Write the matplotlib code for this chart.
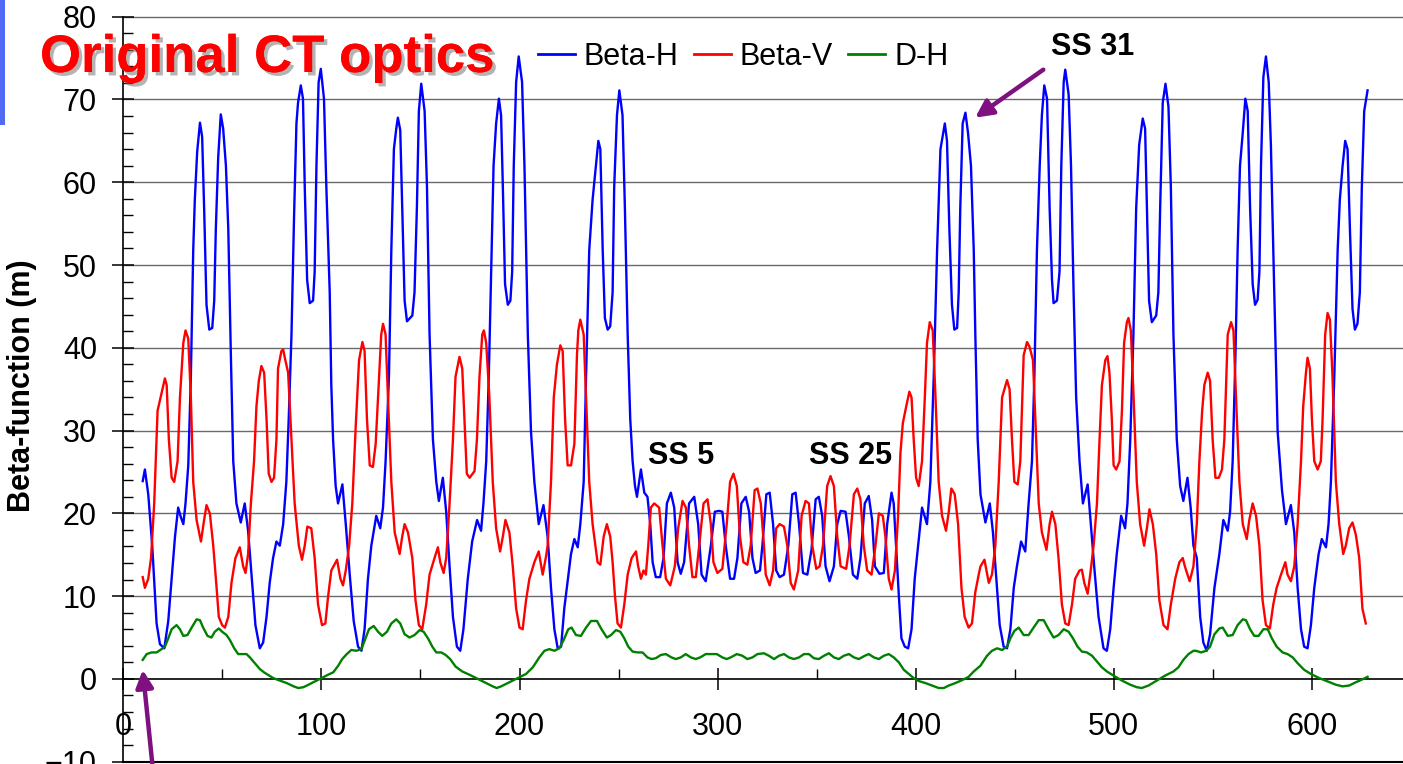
import matplotlib
matplotlib.use("Agg")
import matplotlib.pyplot as plt
import matplotlib.patheffects as pe
from matplotlib.ticker import MultipleLocator
from matplotlib.patches import Rectangle
from matplotlib.lines import Line2D

plt.rcParams['font.family'] = ['Liberation Sans', 'DejaVu Sans']

# ---------------- data ----------------
bh_s = [9.8, 10.9, 12.6, 14.6, 16.8, 18.5, 20.7, 22.7, 24.4, 26.1, 27.7, 29.1, 30.3, 31.4, 32.8, 34.1, 35.3, 36.1, 37.3, 38.7,
        39.8, 40.8, 42.0, 43.4, 44.9, 45.9, 46.7, 47.9, 49.2, 50.4, 51.8, 53.0, 54.3, 55.5, 57.1, 59.3, 61.3, 63.0, 64.7, 66.7,
        68.9, 70.6, 72.3, 73.9, 75.6, 77.3, 79.0, 80.7, 82.3, 83.5, 84.9, 86.2, 87.4, 88.2, 89.6, 90.7, 91.6, 92.8, 94.1, 95.8,
        96.6, 97.5, 98.6, 99.7, 101.3, 102.5, 104.2, 105.0, 105.9, 107.2, 108.4, 110.6, 112.3, 114.3, 116.3, 118.5, 120.2, 121.8, 123.5, 125.2,
        127.7, 129.7, 131.1, 132.4, 134.1, 135.3, 136.6, 137.8, 138.6, 139.8, 140.8, 142.0, 143.2, 145.9, 147.0, 148.2, 149.2, 150.4, 152.1, 153.3,
        154.6, 156.3, 158.0, 159.3, 161.3, 163.0, 164.7, 166.4, 168.4, 170.1, 171.7, 173.9, 176.1, 178.6, 180.6, 181.8, 183.2, 184.5, 185.7, 186.9,
        188.2, 189.6, 190.7, 191.6, 192.7, 194.1, 195.4, 196.3, 197.1, 198.3, 199.6, 201.3, 202.5, 204.2, 205.8, 207.5, 209.7, 212.1, 214.2, 215.9,
        217.6, 219.3, 221.0, 222.6, 224.7, 226.0, 227.7, 229.4, 230.7, 232.4, 233.6, 235.2, 236.9, 238.6, 239.8, 240.8, 242.0, 243.1, 244.5, 245.8,
        247.0, 247.8, 249.2, 250.4, 252.0, 253.2, 254.6, 255.9, 257.1, 258.3, 259.3, 261.3, 263.0, 264.6, 266.0, 267.2, 268.8, 271.0, 272.7, 274.4,
        276.4, 278.1, 279.8, 281.4, 283.1, 285.6, 288.2, 290.2, 291.9, 294.0, 296.6, 298.6, 300.8, 302.4, 304.1, 306.3, 308.3, 310.0, 312.0, 314.2,
        315.9, 317.6, 319.2, 321.4, 322.6, 324.6, 326.3, 328.0, 329.6, 331.3, 333.5, 335.7, 337.7, 339.4, 341.1, 343.1, 345.3, 347.4, 349.5, 351.1,
        352.8, 354.5, 356.5, 358.7, 360.4, 362.1, 364.6, 366.3, 368.3, 370.5, 372.1, 374.3, 376.3, 378.0, 379.4, 381.7, 383.9, 385.6, 387.8, 388.9,
        390.1, 391.5, 392.8, 394.5, 396.2, 397.9, 399.5, 401.2, 403.2, 405.7, 407.4, 409.1, 410.8, 412.5, 414.7, 415.8, 417.0, 418.3, 419.5, 420.9,
        421.7, 422.5, 423.7, 425.1, 426.4, 427.9, 429.3, 430.1, 431.3, 432.7, 435.2, 437.4, 439.0, 440.7, 442.4, 444.4, 446.1, 447.8, 449.5, 451.1,
        453.2, 455.3, 457.0, 458.7, 459.9, 461.2, 462.6, 463.7, 464.9, 466.3, 467.6, 468.8, 469.6, 471.3, 472.6, 473.5, 474.7, 475.5, 477.2, 478.4,
        479.7, 481.0, 482.7, 484.4, 486.8, 488.4, 490.1, 492.3, 494.8, 496.5, 498.2, 499.9, 501.5, 503.7, 505.7, 506.9, 508.3, 509.9, 511.3, 512.8,
        514.6, 515.8, 516.7, 517.8, 519.2, 521.4, 522.5, 523.4, 524.7, 526.1, 527.6, 528.8, 530.1, 531.8, 533.5, 535.1, 537.2, 538.8, 540.2, 541.9,
        543.6, 545.2, 546.9, 548.6, 550.8, 553.3, 555.3, 557.5, 558.7, 560.0, 561.4, 562.5, 563.7, 565.1, 566.4, 567.6, 568.8, 570.1, 571.3, 572.6,
        573.5, 574.3, 575.5, 576.8, 578.2, 579.3, 581.0, 582.7, 584.9, 586.9, 589.4, 591.1, 592.8, 594.5, 596.1, 597.8, 599.5, 601.2, 603.4, 605.0,
        607.1, 608.4, 609.6, 611.3, 613.0, 614.1, 615.5, 616.8, 618.0, 619.2, 620.5, 621.7, 623.0, 624.2, 625.2, 626.4, 628.1]
beta_h = [23.9, 25.3, 22.3, 16.1, 6.7, 4.2, 3.7, 7.0, 12.1, 17.2, 20.7, 19.5, 18.7, 21.2, 25.8, 36.5, 51.8, 57.9, 63.7, 67.2,
          65.5, 56.9, 45.2, 42.2, 42.4, 45.7, 54.3, 63.0, 68.2, 66.5, 62.0, 54.3, 39.1, 26.3, 21.2, 18.9, 21.2, 17.9, 12.6, 6.5,
          3.7, 4.4, 7.5, 11.6, 14.6, 16.6, 16.1, 18.7, 23.8, 31.4, 41.6, 55.9, 67.1, 69.6, 71.7, 70.1, 59.4, 48.2, 45.4, 45.7,
          49.2, 62.0, 72.1, 73.7, 70.1, 59.4, 46.7, 35.5, 28.9, 23.3, 21.2, 23.5, 18.7, 12.6, 7.0, 3.9, 3.4, 6.0, 12.1, 16.1,
          19.7, 18.2, 20.7, 26.3, 36.5, 51.8, 64.0, 66.5, 67.8, 66.3, 56.9, 45.7, 43.2, 43.9, 46.7, 56.9, 68.6, 71.9, 68.6, 59.4,
          41.6, 28.9, 23.8, 21.5, 24.3, 20.2, 13.6, 7.5, 3.9, 3.4, 6.0, 12.1, 16.6, 19.2, 17.9, 21.2, 26.3, 36.5, 49.2, 62.0,
          67.1, 70.1, 68.1, 59.4, 47.7, 45.2, 45.7, 49.2, 62.0, 72.1, 75.2, 72.1, 62.0, 41.6, 29.9, 23.8, 18.7, 21.0, 17.2, 11.0,
          6.0, 3.7, 3.9, 8.5, 12.6, 15.1, 16.9, 15.9, 18.7, 23.8, 36.5, 51.8, 57.9, 62.0, 65.0, 64.0, 51.8, 43.6, 42.2, 42.6,
          46.7, 59.4, 68.1, 71.1, 68.1, 56.9, 41.6, 31.4, 26.3, 23.3, 22.0, 25.3, 22.5, 22.0, 18.7, 14.1, 12.3, 12.3, 14.6, 21.2,
          22.5, 20.7, 14.1, 12.7, 14.1, 21.2, 22.0, 18.7, 12.6, 11.8, 16.1, 20.2, 20.3, 20.2, 16.1, 12.1, 12.1, 14.6, 21.2, 22.0,
          20.2, 14.6, 12.8, 13.1, 16.1, 22.3, 22.5, 18.7, 13.1, 12.3, 12.6, 16.1, 22.3, 22.5, 18.7, 12.8, 12.6, 15.6, 21.7, 22.0,
          19.7, 13.6, 11.8, 13.6, 18.7, 20.3, 20.2, 17.2, 12.6, 12.1, 14.6, 21.2, 22.1, 19.2, 13.6, 12.7, 12.8, 18.7, 22.5, 21.2,
          16.1, 10.0, 4.9, 3.9, 3.7, 6.0, 12.1, 16.1, 20.7, 18.7, 23.8, 36.5, 51.8, 64.0, 67.1, 65.0, 54.3, 45.2, 42.2, 42.4,
          46.7, 56.9, 67.1, 68.4, 66.0, 62.0, 51.8, 41.6, 28.9, 22.3, 18.9, 21.2, 17.7, 12.1, 6.5, 3.9, 3.7, 6.0, 11.0, 13.6,
          16.6, 15.4, 21.2, 26.3, 36.5, 51.8, 62.0, 68.1, 71.7, 70.1, 56.9, 48.2, 45.4, 45.7, 49.2, 62.0, 72.1, 73.6, 70.6, 62.0,
          46.7, 34.0, 26.3, 21.2, 23.5, 18.7, 13.6, 7.5, 3.7, 3.4, 6.0, 11.0, 15.1, 19.7, 18.2, 21.2, 28.9, 41.6, 56.9, 64.5,
          67.7, 66.5, 56.9, 45.7, 43.1, 43.9, 46.7, 56.9, 69.6, 71.9, 69.1, 59.4, 41.6, 28.9, 23.3, 21.5, 24.3, 20.7, 16.1, 14.6,
          7.5, 4.4, 3.4, 5.4, 11.0, 15.1, 19.2, 17.9, 20.2, 26.3, 39.1, 51.8, 62.0, 66.0, 70.1, 68.6, 56.9, 47.7, 45.2, 45.8,
          49.2, 62.0, 72.7, 75.2, 72.1, 64.5, 46.7, 29.9, 22.8, 18.7, 21.0, 17.7, 11.0, 6.0, 3.9, 3.7, 6.5, 11.0, 15.1, 16.9,
          15.9, 18.7, 23.8, 36.5, 51.8, 57.9, 62.0, 65.0, 64.0, 54.3, 44.7, 42.2, 42.9, 46.7, 59.4, 68.6, 71.1]

bv_s = [9.8, 10.9, 12.6, 14.0, 15.6, 17.3, 19.3, 21.0, 21.9, 23.0, 24.4, 25.7, 27.4, 28.6, 30.3, 31.4, 32.8, 34.1, 35.3, 37.0,
        39.2, 40.8, 42.0, 43.7, 45.4, 47.1, 48.2, 49.9, 51.3, 53.0, 54.6, 56.6, 58.8, 60.5, 61.7, 63.0, 64.4, 66.0, 67.2, 68.4,
        69.7, 71.1, 72.3, 73.4, 74.8, 76.1, 77.3, 78.1, 79.8, 80.7, 81.8, 83.2, 84.9, 86.5, 88.6, 90.2, 91.6, 92.9, 94.9, 96.6,
        98.3, 100.3, 102.0, 103.4, 105.0, 107.9, 109.6, 110.9, 112.3, 114.0, 115.6, 117.3, 119.0, 120.7, 121.8, 123.0, 124.4, 126.0, 127.4, 129.1,
        130.2, 131.1, 132.4, 133.6, 135.3, 137.0, 139.5, 140.8, 142.0, 143.7, 145.9, 147.5, 149.2, 150.9, 152.9, 154.6, 157.1, 158.8, 160.0, 161.7,
        163.0, 164.7, 166.4, 167.7, 169.7, 171.1, 172.2, 173.4, 174.8, 177.3, 178.5, 179.8, 181.2, 182.0, 183.2, 184.8, 186.5, 188.2, 190.2, 191.6,
        192.9, 194.9, 196.6, 198.3, 200.0, 201.6, 203.3, 205.0, 207.5, 209.7, 211.7, 213.4, 214.2, 215.9, 217.3, 218.9, 220.6, 221.8, 223.0, 224.3,
        226.0, 227.7, 229.0, 229.7, 230.7, 232.4, 233.6, 235.2, 236.9, 239.4, 240.8, 242.5, 244.1, 245.8, 247.0, 248.2, 249.5, 251.2, 252.9, 254.6,
        256.6, 258.8, 259.9, 261.3, 262.6, 263.8, 265.0, 266.3, 268.0, 270.5, 272.2, 273.9, 276.1, 278.4, 280.1, 282.3, 284.0, 285.6, 287.3, 289.0,
        290.7, 292.9, 294.9, 296.6, 297.9, 299.9, 302.4, 304.6, 306.3, 308.0, 309.7, 311.3, 313.0, 315.0, 316.7, 318.7, 320.1, 321.8, 323.4, 324.3,
        326.3, 328.0, 329.6, 331.3, 333.5, 335.2, 336.9, 338.5, 340.7, 342.4, 344.4, 346.1, 347.8, 349.8, 351.5, 353.2, 355.3, 357.0, 358.7, 360.4,
        362.1, 364.9, 366.6, 368.8, 370.5, 372.1, 373.8, 375.5, 377.7, 379.7, 381.4, 383.4, 384.7, 386.4, 387.8, 389.5, 391.1, 392.3, 393.5, 395.2,
        396.8, 397.9, 399.0, 400.2, 401.5, 403.2, 404.6, 405.7, 407.1, 408.6, 410.0, 411.6, 413.3, 415.3, 416.7, 418.0, 419.7, 421.4, 423.1, 424.7,
        426.7, 428.4, 430.1, 431.8, 432.7, 434.7, 436.9, 438.5, 440.2, 441.9, 443.6, 444.8, 446.1, 447.4, 448.6, 449.8, 451.5, 452.8, 454.5, 456.2,
        457.5, 459.2, 460.4, 462.1, 463.7, 466.0, 467.6, 468.8, 470.5, 472.1, 473.8, 475.5, 477.2, 478.9, 480.5, 482.7, 483.9, 485.1, 486.8, 488.1,
        489.8, 491.5, 492.8, 494.0, 495.7, 496.8, 497.8, 499.0, 499.9, 501.2, 502.9, 504.1, 505.2, 506.6, 507.4, 508.6, 510.0, 511.6, 513.3, 515.3,
        516.7, 518.0, 519.7, 521.4, 523.0, 525.1, 527.1, 528.8, 531.0, 533.1, 534.8, 536.0, 538.3, 540.2, 541.9, 543.2, 544.6, 545.7, 547.4, 548.6,
        549.9, 551.3, 553.0, 554.6, 555.8, 557.5, 559.2, 560.4, 561.7, 563.4, 565.1, 567.1, 568.4, 570.1, 571.8, 573.5, 575.1, 576.8, 578.8, 580.5,
        582.2, 584.4, 586.6, 587.7, 589.4, 591.1, 592.8, 594.5, 595.6, 597.0, 597.8, 599.0, 600.0, 601.2, 602.9, 604.5, 605.4, 606.7, 607.9, 609.1,
        610.4, 612.1, 613.8, 615.8, 617.1, 618.8, 620.5, 622.2, 623.9, 625.5, 627.2]
beta_v = [12.3, 11.0, 12.1, 14.6, 21.2, 32.4, 34.5, 36.3, 35.5, 28.9, 24.3, 23.8, 26.3, 34.0, 40.6, 42.1, 41.1, 34.0, 23.8, 19.2,
          16.6, 19.2, 21.0, 20.0, 16.1, 11.0, 7.5, 6.5, 6.2, 7.5, 11.6, 14.6, 15.9, 13.6, 12.8, 15.1, 21.2, 26.3, 32.9, 36.0,
          37.8, 37.0, 31.4, 24.8, 23.8, 24.3, 28.9, 37.5, 39.6, 39.8, 38.5, 37.0, 28.9, 21.2, 16.1, 14.4, 16.1, 18.4, 18.2, 14.6,
          9.0, 6.5, 6.7, 10.0, 13.1, 14.4, 12.1, 11.3, 13.1, 16.1, 21.2, 30.4, 38.5, 40.7, 39.6, 31.4, 25.8, 25.6, 28.4, 36.5,
          41.6, 42.9, 41.6, 34.0, 23.8, 17.7, 15.1, 17.2, 18.7, 17.7, 14.6, 9.5, 6.5, 6.0, 9.0, 12.6, 14.6, 15.9, 14.1, 12.8,
          14.6, 21.2, 28.9, 36.5, 38.9, 37.5, 31.4, 24.8, 24.3, 25.1, 28.9, 36.5, 41.6, 42.1, 40.6, 34.0, 23.8, 18.2, 15.4, 17.2,
          19.2, 17.7, 13.6, 8.5, 6.2, 6.0, 9.5, 12.1, 14.1, 15.4, 12.6, 14.8, 16.1, 23.8, 34.0, 38.0, 40.3, 39.6, 31.4, 25.8,
          25.8, 28.4, 39.1, 42.1, 43.4, 41.6, 34.0, 23.8, 18.7, 14.1, 13.8, 17.2, 18.7, 17.2, 14.1, 10.0, 6.7, 6.2, 9.0, 12.6,
          14.6, 15.4, 13.6, 12.1, 13.1, 12.6, 16.1, 20.7, 21.2, 20.7, 16.1, 12.1, 11.3, 13.6, 18.2, 21.5, 20.7, 16.1, 12.3, 12.3,
          16.1, 21.2, 21.7, 18.7, 14.1, 12.8, 13.3, 18.7, 23.8, 24.8, 23.3, 17.2, 14.1, 13.8, 16.1, 22.8, 23.0, 21.2, 16.1, 12.6,
          11.3, 13.1, 18.2, 18.7, 18.4, 16.1, 11.6, 10.8, 13.1, 19.7, 21.5, 21.2, 16.1, 13.3, 13.6, 16.1, 23.3, 24.5, 23.3, 17.2,
          13.6, 13.3, 16.1, 22.3, 23.0, 21.7, 16.1, 13.1, 12.6, 16.1, 20.0, 19.7, 17.2, 12.1, 10.8, 13.1, 19.7, 27.3, 30.9, 32.9,
          34.7, 34.0, 28.9, 24.3, 23.3, 26.3, 34.0, 40.6, 43.1, 42.1, 34.0, 23.8, 19.7, 17.9, 20.2, 23.0, 22.3, 18.7, 11.0, 7.5,
          6.2, 6.7, 10.5, 12.6, 13.6, 14.4, 11.6, 12.6, 16.1, 23.8, 34.0, 35.0, 36.1, 35.0, 28.9, 23.8, 23.5, 26.3, 39.1, 40.7,
          40.1, 38.5, 31.4, 21.2, 17.7, 15.6, 18.7, 20.2, 18.7, 14.6, 9.0, 6.7, 6.5, 9.0, 12.1, 13.1, 13.2, 11.6, 10.3, 12.6,
          16.1, 21.2, 28.9, 35.5, 38.5, 39.0, 37.0, 31.4, 25.8, 25.3, 26.3, 32.4, 40.6, 43.1, 43.6, 42.1, 34.0, 23.8, 18.7, 16.1,
          18.2, 20.5, 18.7, 15.1, 9.5, 6.5, 6.0, 9.0, 12.1, 14.1, 14.6, 13.5, 11.8, 13.6, 18.7, 26.3, 32.4, 35.5, 37.0, 36.0,
          28.9, 24.3, 24.3, 25.3, 28.9, 41.6, 43.1, 42.1, 34.0, 23.8, 18.7, 16.9, 19.2, 21.2, 19.7, 16.1, 9.5, 6.5, 6.1, 9.0,
          11.0, 12.6, 14.1, 12.6, 11.8, 13.6, 18.7, 26.3, 32.9, 37.0, 38.8, 37.5, 31.4, 26.3, 25.3, 26.3, 31.4, 41.6, 44.2, 43.4,
          36.5, 23.8, 18.7, 15.1, 16.1, 18.2, 18.9, 17.4, 14.6, 8.5, 6.7]

dh_s = [9.8, 11.8, 14.3, 16.8, 19.3, 21.0, 22.7, 24.4, 26.9, 28.6, 30.3, 32.4, 34.5, 37.0, 38.7, 40.3, 42.5, 44.5, 46.2, 48.2,
        49.9, 52.1, 53.8, 56.0, 58.0, 60.5, 62.2, 63.9, 66.4, 68.9, 71.0, 75.7, 79.0, 82.5, 86.0, 88.3, 90.9, 93.5, 95.9, 100.1,
        103.3, 106.0, 108.5, 110.5, 112.8, 115.1, 117.6, 120.2, 121.8, 124.0, 126.4, 128.6, 130.7, 133.1, 135.3, 137.8, 139.8, 142.0, 144.5, 147.0,
        149.6, 151.6, 153.8, 156.0, 158.0, 160.5, 162.7, 165.0, 167.7, 171.1, 174.8, 179.0, 183.2, 186.5, 188.5, 190.7, 194.9, 199.1, 203.3, 206.7,
        210.0, 212.6, 215.1, 217.6, 220.1, 222.3, 224.6, 226.3, 228.5, 231.0, 233.6, 236.1, 239.1, 241.4, 244.1, 246.2, 248.7, 250.9, 252.9, 254.9,
        257.1, 259.6, 262.1, 264.6, 266.6, 268.8, 271.4, 273.9, 276.7, 278.9, 281.4, 283.9, 286.5, 289.0, 291.2, 294.0, 296.6, 299.6, 302.4, 304.6,
        306.6, 309.7, 312.5, 315.0, 317.6, 320.1, 323.4, 325.9, 328.5, 331.0, 333.5, 336.0, 338.5, 341.1, 343.6, 346.1, 348.6, 351.1, 353.7, 356.2,
        358.7, 361.2, 363.7, 366.3, 368.8, 371.3, 374.3, 376.3, 378.9, 381.4, 383.9, 386.4, 388.9, 391.5, 394.0, 396.5, 399.0, 401.5, 404.9, 408.3,
        411.6, 414.2, 416.7, 420.0, 423.4, 426.7, 429.3, 432.7, 436.0, 438.5, 441.1, 443.6, 446.1, 447.8, 449.8, 452.0, 454.5, 457.0, 459.5, 462.1,
        464.6, 467.1, 469.6, 472.1, 474.7, 477.2, 479.4, 481.7, 483.9, 486.4, 489.0, 491.5, 494.0, 496.5, 499.9, 504.1, 508.3, 511.6, 514.1, 517.5,
        521.7, 525.9, 530.1, 532.6, 535.1, 537.7, 540.2, 541.5, 544.1, 546.6, 548.6, 550.8, 553.3, 555.0, 557.5, 560.0, 562.5, 565.1, 566.7, 568.8,
        570.9, 573.1, 575.5, 577.7, 579.8, 582.2, 585.2, 587.7, 590.3, 592.8, 596.1, 599.5, 603.7, 607.9, 612.1, 615.5, 618.8, 622.2, 625.5, 628.1]
d_h = [2.3, 3.0, 3.2, 3.2, 3.6, 3.9, 4.9, 6.0, 6.5, 6.0, 5.2, 5.3, 6.2, 7.2, 7.1, 6.2, 5.2, 5.0, 5.7, 6.1,
       5.7, 5.3, 4.7, 3.7, 3.0, 3.0, 3.0, 2.6, 1.9, 1.2, 0.8, 0.1, -0.2, -0.5, -0.9, -1.1, -1.0, -0.7, -0.4, 0.1,
       0.5, 0.8, 1.6, 2.4, 3.0, 3.5, 3.4, 3.6, 4.6, 6.0, 6.4, 5.7, 5.2, 5.7, 6.7, 7.2, 6.7, 5.4, 5.0, 5.3,
       5.9, 5.7, 4.9, 3.9, 3.2, 3.2, 2.9, 2.4, 1.5, 0.9, 0.5, 0.0, -0.5, -0.9, -1.1, -0.9, -0.4, 0.1, 0.6, 1.4,
       2.6, 3.4, 3.6, 3.4, 3.7, 4.7, 6.0, 6.2, 5.3, 5.2, 6.2, 7.0, 7.0, 6.0, 5.0, 5.3, 5.9, 5.7, 4.9, 3.9,
       3.3, 3.2, 3.2, 2.6, 2.4, 2.5, 2.9, 3.0, 2.6, 2.4, 2.6, 3.0, 2.6, 2.4, 2.6, 3.0, 3.0, 3.0, 2.6, 2.4,
       2.6, 3.0, 2.8, 2.4, 2.6, 3.0, 3.1, 2.8, 2.4, 2.8, 3.0, 2.6, 2.4, 2.6, 3.0, 3.0, 2.5, 2.4, 2.8, 3.1,
       2.6, 2.4, 2.8, 3.0, 2.6, 2.4, 2.8, 3.0, 2.6, 2.4, 2.8, 3.0, 2.6, 2.0, 1.1, 0.6, 0.1, -0.25, -0.5, -0.8,
       -1.1, -1.1, -0.8, -0.5, -0.15, 0.25, 0.9, 1.6, 2.8, 3.4, 3.7, 3.5, 3.9, 4.9, 5.8, 6.2, 5.3, 5.3, 6.2, 7.1,
       7.1, 6.0, 5.0, 5.3, 6.0, 5.7, 4.9, 3.9, 3.3, 3.2, 2.8, 2.1, 1.4, 0.9, 0.4, -0.2, -0.7, -1.0, -1.1, -0.8,
       -0.2, 0.4, 0.9, 1.4, 2.3, 3.0, 3.4, 3.4, 3.2, 3.4, 3.9, 5.4, 6.1, 6.2, 5.2, 5.3, 6.5, 7.2, 7.1, 6.0,
       5.2, 5.2, 6.0, 6.0, 4.9, 3.9, 3.2, 3.0, 2.6, 1.9, 1.1, 0.6, 0.1, -0.3, -0.7, -0.9, -0.8, -0.4, -0.05, 0.25]

series_names = ['Beta-H', 'Beta-V', 'D-H']
series_colors = ['#0000FF', '#FF0000', '#008000']
y_ticks = list(range(-10, 90, 10))
x_ticks = [0, 100, 200, 300, 400, 500, 600]
ss_labels = [('SS 5', 264.7, 26.0), ('SS 25', 346.3, 26.0), ('SS 31', 468.5, 75.4)]

# ---------------- figure ----------------
W, H = 1403, 764
fig = plt.figure(figsize=(W / 100, H / 100), dpi=100)
px_per_unit = 1.981
left_px, top_px, bot_px = 123.3, 16.7, 761.7
xmax = 660
ax = fig.add_axes([left_px / W, (H - bot_px) / H, xmax * px_per_unit / W, (bot_px - top_px) / H])
ax.set_xlim(0, xmax)
ax.set_ylim(-10, 80)

for v in y_ticks:
    if v > 0:
        ax.axhline(v, color='#6a6a6a', lw=1.0, zorder=0.5, clip_on=False)
ax.axhline(-10, color='black', lw=1.5, zorder=0.6, clip_on=False)

for s, v, n, c in zip([bh_s, bv_s, dh_s], [beta_h, beta_v, d_h], series_names, series_colors):
    ax.plot(s, v, color=c, lw=1.7, label=n, zorder=3)

ax.spines['top'].set_visible(False)
ax.spines['right'].set_visible(False)
ax.spines['bottom'].set_position(('data', 0))
ax.spines['bottom'].set_linewidth(1.2)
ax.spines['left'].set_linewidth(1.2)

ax.set_yticks(y_ticks)
ax.yaxis.set_minor_locator(MultipleLocator(2))
ax.set_xticks(x_ticks)
ax.xaxis.set_minor_locator(MultipleLocator(50))
ax.tick_params(axis='y', which='major', direction='inout', length=16, width=1.1, labelsize=22, pad=11)
ax.tick_params(axis='y', which='minor', direction='in', length=7, width=1.0)
ax.tick_params(axis='x', which='major', direction='inout', length=16, width=1.1, labelsize=22, pad=16)
ax.tick_params(axis='x', which='minor', direction='in', length=7, width=1.0)

for txt, xs, ys in ss_labels:
    ax.text(xs, ys, txt, fontsize=22, fontweight='bold', ha='left', va='baseline', zorder=5)

arrow_col = '#7F107F'
ax.annotate('', xy=(430.0, 67.8), xytext=(464.4, 73.6),
            arrowprops=dict(arrowstyle='-|>', color=arrow_col, lw=3.2, mutation_scale=26, shrinkA=0, shrinkB=0),
            zorder=6)
a2 = ax.annotate('', xy=(9.8, 1.1), xytext=(15.6, -12.5), annotation_clip=False,
                 arrowprops=dict(arrowstyle='-|>', color=arrow_col, lw=3.2, mutation_scale=26, shrinkA=0, shrinkB=0),
                 zorder=6)
a2.arrow_patch.set_clip_on(False)

handles = [Line2D([], [], color=c, lw=2) for c in series_colors]
ax.legend(handles, series_names, loc='center left', bbox_to_anchor=(538 / W, 1 - 57 / H),
          bbox_transform=fig.transFigure, ncol=3, frameon=False, fontsize=22,
          handlelength=1.2, handletextpad=0.3, columnspacing=0.5, borderpad=0, borderaxespad=0)

fig.text(40 / W, 1 - 72 / H, 'Original CT optics', fontsize=38, fontweight='bold', color='#FF0000',
         ha='left', va='baseline', zorder=10,
         path_effects=[pe.withSimplePatchShadow(offset=(2.5, -2.5), shadow_rgbFace='#777777', alpha=0.55), pe.Normal()])

fig.text(22 / W, 1 - 386 / H, 'Beta-function (m)', rotation=90, fontsize=22, fontweight='bold',
         ha='center', va='center')

fig.add_artist(Rectangle((0, 1 - 125 / H), 4.5 / W, 125 / H, transform=fig.transFigure,
                         facecolor='#4F6BF5', edgecolor='none'))

fig.savefig('out.png', dpi=100)
